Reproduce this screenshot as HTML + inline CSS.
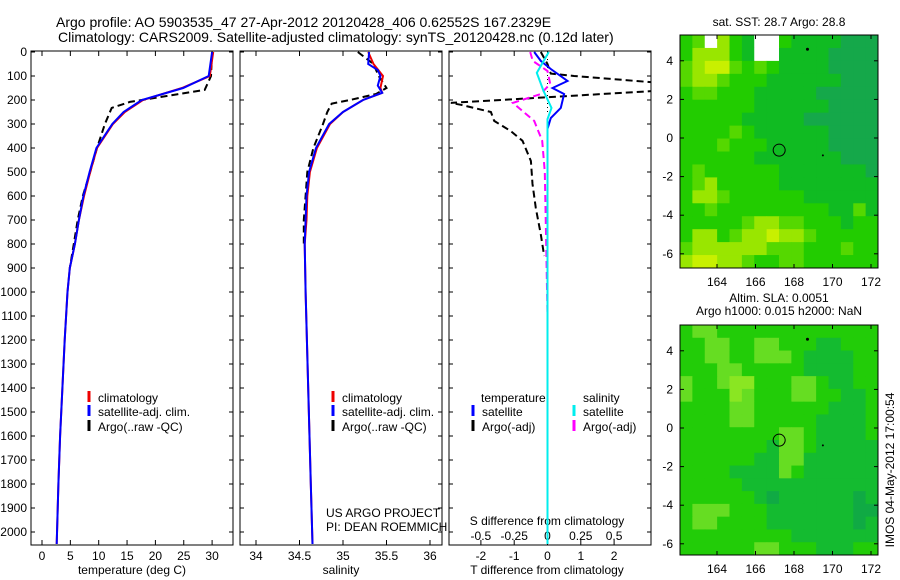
<!DOCTYPE html>
<html><head><meta charset="utf-8"><style>
body{margin:0;background:#fff}
svg{display:block;font-family:"Liberation Sans",sans-serif}
text{font-size:12px;fill:#000}
</style></head><body>
<svg id="s" width="900" height="580">
<text x="56" y="27" style="font-size:14px">Argo profile: AO 5903535_47 27-Apr-2012 20120428_406 0.62552S 167.2329E</text>
<text x="58" y="42" style="font-size:14px">Climatology: CARS2009. Satellite-adjusted climatology: synTS_20120428.nc (0.12d later)</text>
<text transform="translate(894,470) rotate(-90)" text-anchor="middle">IMOS 04-May-2012 17:00:54</text>
<g id="g"></g>
</svg>
<script>
// ---- data ----
const depthTicks=[0,100,200,300,400,500,600,700,800,900,1000,1100,1200,1300,1400,1500,1600,1700,1800,1900,2000];
const tTicks=[0,5,10,15,20,25,30];
const sTicks=[34,34.5,35,35.5,36];
const dTTicks=[-2,-1,0,1,2];
const dSTicks=[-0.5,-0.25,0,0.25,0.5];
const dSTickLabels=['-0.5','-0.25','0','0.25','0.5'];
const climTD=[0,100,150,200,250,300,400,500,600,700,800,900,1000,1200,1400,1600,1800,2050];
const climT=[30.2,29.6,24.7,17.8,14.6,12.5,9.7,8.5,7.4,6.5,5.8,4.9,4.5,4.0,3.6,3.2,2.9,2.6];
const satT=[30.0,29.4,24.9,17.6,14.4,12.4,9.6,8.4,7.3,6.5,5.8,4.9,4.5,4.0,3.6,3.2,2.9,2.6];
const argoTD=[0,100,158,208,233,300,400,500,600,700,800,900];
const argoT=[30,29.8,28.7,15.5,12.3,11.1,9.7,8.5,7.2,6.3,5.6,4.9];
const climSD=[0,50,100,150,170,200,250,300,400,500,600,700,800,1000,1400,1800,2050];
const climS=[35.29,35.35,35.46,35.43,35.45,35.23,35.0,34.85,34.7,34.62,34.59,34.58,34.56,34.57,34.6,34.63,34.65];
const satSD=[0,50,75,100,140,170,200,250,300,400,500,600,700,800,1000,1400,1800,2050];
const satS=[35.30,35.29,35.40,35.43,35.40,35.45,35.23,35.0,34.84,34.69,34.61,34.58,34.57,34.56,34.57,34.6,34.63,34.65];
const argoSD=[0,50,100,150,175,200,215,250,300,400,500,600,700,800];
const argoS=[35.17,35.35,35.41,35.5,35.38,35.08,34.87,34.82,34.77,34.66,34.59,34.57,34.55,34.55];
const dTArgoD=[0,50,90,100,130,160,212,220,250,287,330,370,454,550,650,760,850];
const dTArgo=[-0.2,0,0.1,0.8,3.5,3.5,-2.9,-2.6,-1.7,-1.6,-1.1,-0.75,-0.5,-0.45,-0.35,-0.2,-0.1];
const dTSatD=[0,37,71,121,150,175,233,275,320,2050];
const dTSat=[-0.4,-0.2,0.1,0.6,0.15,0.5,0.4,0.1,0,0];
const dSArgoD=[0,37,79,133,175,212,287,370,500,800,1100];
const dSArgo=[-0.13,-0.11,0,0.02,-0.05,-0.26,-0.1,-0.04,-0.02,-0.01,0];
const dSSatD=[0,87,162,233,280,2050];
const dSSat=[0.01,-0.08,-0.03,0.03,0,0];
const sstGrid=["cdwecbwwcbbbbaaa","ceeecbwwbbbbaaaa","deffdcdcbbbbaaaa","deedcccbbbbbbaaa","cddcccbbbbbaaaaa","ccccccbbbbbbaaaa","cccccbbbbbaaaaaa","ccccdcbbbbbbaaaa","cccdcccbbbbbaaaa","ccccccbbbbbbbaaa","cdccccccbbbbbbba","cdecccccbbbbbbbb","ceedccccccbbbbbb","ccdcccccccccbbdb","cccccdeeddcccbcc","ceecdeefeedccccc","deeeeeedddcccdcc","effeedccddcccccc"];
const slaGrid=["cddccccccccccccc","ccddccddcccbbccc","ccddccdddcbbbbcc","cccddcccccbbbbcc","dccdeecccddcbbcc","dcccedcccddccbbc","ccccddccccccbbbc","ccccddcccccbbbbc","ccccccccddcbbbbc","cccccccbddcbbbbb","ccccccbbddbbbbbb","ccccbbbbdcbbbbbb","cccccbbbbbbbbbbb","ccccccbabbbbbbab","cdddcccbbbbbbbaa","cddccccbbbbbbbab","cccccccccbbbbbbb","ccccccddcccbbbcc"];
const lonTicks=[164,166,168,170,172];
const latTicks=[4,2,0,-2,-4,-6];
const argoPos=[167.23,-0.63];
// ---- helpers ----
let g=document.getElementById('g');const NS='http://www.w3.org/2000/svg';
function mk(t,a,p){const e=document.createElementNS(NS,t);for(const k in a)e.setAttribute(k,a[k]);(p||g).appendChild(e);return e;}
const Y=d=>52+d*0.24;
function panel(x0,name){const r=mk('rect',{x:x0,y:51,width:202,height:494,fill:'none',stroke:'#000','stroke-width':1});


depthTicks.forEach(d=>{mk('line',{x1:x0,x2:x0+4,y1:Y(d),y2:Y(d),stroke:'#000'});mk('line',{x1:x0+198,x2:x0+202,y1:Y(d),y2:Y(d),stroke:'#000'});});}
function txt(x,y,s,name,anchor){const t=mk('text',{x:x,y:y,'text-anchor':anchor||'start'});t.textContent=s;


return t;}
function xt(X,ticks,name){ticks.forEach(v=>{mk('line',{x1:X(v),x2:X(v),y1:545,y2:540,stroke:'#000'});mk('line',{x1:X(v),x2:X(v),y1:51,y2:56,stroke:'#000'});
txt(X(v),560,String(v),name+'-tick-label','middle');});}
function line(X,vals,ds,col,dash,name){const pts=vals.map((v,i)=>X(v).toFixed(1)+','+Y(ds[i]).toFixed(1)).join(' ');
const e=mk('polyline',{points:pts,fill:'none',stroke:col,'stroke-width':2,'stroke-dasharray':dash||'none'});

}
function leg(x,y,col,s,name){mk('line',{x1:x,x2:x,y1:y-11,y2:y,stroke:col,'stroke-width':3});txt(x+9,y,s,name);}
depthTicks.forEach(d=>{txt(27,Y(d)+4,String(d),'depth-tick-label','end');});
const root=g;
const cp=mk('clipPath',{id:'c1'});mk('rect',{x:31,y:51,width:202,height:494},cp);
const cp2=mk('clipPath',{id:'c2'});mk('rect',{x:240,y:51,width:202,height:494},cp2);
const cp3=mk('clipPath',{id:'c3'});mk('rect',{x:449,y:51,width:202,height:494},cp3);
// Panel 1
const XT=v=>42+v*5.67;
panel(31,'temperature-panel');xt(XT,tTicks,'temperature');
g=mk('g',{'clip-path':'url(#c1)'});
line(XT,argoT,argoTD,'#000','7,4','argo-temperature-line');
line(XT,climT,climTD,'#e00','','climatology-temperature-line');
line(XT,satT,climTD,'#00f','','satellite-temperature-line');
g=root;
txt(132,574,'temperature (deg C)','temperature-axis-title','middle');
leg(89,402,'#e00','climatology','legend-climatology');leg(89,416,'#00f','satellite-adj. clim.','legend-satellite');leg(89,431,'#000','Argo(..raw -QC)','legend-argo');
// Panel 2
const XS=v=>256+(v-34)*87;
panel(240,'salinity-panel');xt(XS,sTicks,'salinity');
g=mk('g',{'clip-path':'url(#c2)'});
line(XS,argoS,argoSD,'#000','7,4','argo-salinity-line');
line(XS,climS,climSD,'#e00','','climatology-salinity-line');
line(XS,satS,satSD,'#00f','','satellite-salinity-line');
g=root;
txt(341,574,'salinity','salinity-axis-title','middle');
leg(333,402,'#e00','climatology','legend-climatology');leg(333,416,'#00f','satellite-adj. clim.','legend-satellite');leg(333,431,'#000','Argo(..raw -QC)','legend-argo');
txt(326,517,'US ARGO PROJECT','project-label');txt(326,531,'PI: DEAN ROEMMICH','pi-label');
// Panel 3
const XD=v=>547.5+v*33.3;const XDS=v=>547.5+v*133.2;
panel(449,'difference-panel');xt(XD,dTTicks,'t-difference');
dSTicks.forEach((v,i)=>{txt(XDS(v),540,dSTickLabels[i],'s-difference-tick-label','middle');});
txt(547,525,'S difference from climatology','s-difference-axis-title','middle');
txt(547,574,'T difference from climatology','t-difference-axis-title','middle');
g=mk('g',{'clip-path':'url(#c3)'});
mk('line',{x1:XD(0),x2:XD(0),y1:51,y2:Y(250),stroke:'#000','stroke-dasharray':'1,3'});
line(XD,dTArgo,dTArgoD,'#000','7,4','argo-t-difference-line');
line(XDS,dSArgo,dSArgoD,'#f0f','7,4','argo-s-difference-line');
line(XD,dTSat,dTSatD,'#00f','','satellite-t-difference-line');
line(XDS,dSSat,dSSatD,'#0ee','','satellite-s-difference-line');
g=root;
txt(481,402,'temperature','legend-temperature-header');txt(583,402,'salinity','legend-salinity-header');
leg(473,416,'#00f','satellite','legend-t-satellite');leg(473,431,'#000','Argo(-adj)','legend-t-argo');
leg(574,416,'#0ee','satellite','legend-s-satellite');leg(574,431,'#f0f','Argo(-adj)','legend-s-argo');
// Maps
const pal1={a:'#15a84a',b:'#10bb22',c:'#22cc00',d:'#55d800',e:'#99e600',f:'#c8f000',w:'#ffffff'};
const pal2={a:'#10aa44',b:'#14bb30',c:'#22cc08',d:'#66dd22',e:'#8ae622'};
function map(y0,y1,grid,pal,name,latZero){
const x0=680,x1=878,H=y1-y0;const LX=v=>717+(v-164)*19.25;const LY=v=>latZero-v*19.3;
const mg=mk('g',{});


const cw=(x1-x0)/grid[0].length,ch=H/grid.length;
grid.forEach((row,r)=>{for(let c=0;c<row.length;c++){mk('rect',{x:x0+c*cw,y:y0+r*ch,width:cw+0.5,height:ch+0.5,fill:pal[row[c]]},mg);}});
mk('rect',{x:x0,y:y0,width:x1-x0,height:H,fill:'none',stroke:'#000'},mg);
lonTicks.forEach(v=>{mk('line',{x1:LX(v),x2:LX(v),y1:y0,y2:y0+4,stroke:'#000'},mg);mk('line',{x1:LX(v),x2:LX(v),y1:y1,y2:y1-4,stroke:'#000'},mg);txt(LX(v),y1+18,String(v),'longitude-tick-label','middle');});
latTicks.forEach(v=>{mk('line',{x1:x0,x2:x0+4,y1:LY(v),y2:LY(v),stroke:'#000'},mg);mk('line',{x1:x1,x2:x1-4,y1:LY(v),y2:LY(v),stroke:'#000'},mg);txt(673,LY(v)+4,String(v),'latitude-tick-label','end');});
const c=mk('circle',{cx:LX(argoPos[0]),cy:LY(argoPos[1]),r:6,fill:'none',stroke:'#000'},mg);


mk('circle',{cx:LX(169.5),cy:LY(-0.9),r:1,fill:'#000'},mg);mk('circle',{cx:LX(168.7),cy:LY(4.6),r:1.5,fill:'#000'},mg);
}
map(35,268,sstGrid,pal1,'sst-map',138);
map(325,555,slaGrid,pal2,'sla-map',428);
txt(779,26,'sat. SST: 28.7 Argo: 28.8','sst-map-title','middle');
txt(779,302,'Altim. SLA: 0.0051','sla-map-title-1','middle');
txt(779,315,'Argo h1000: 0.015 h2000: NaN','sla-map-title-2','middle');
</script>
</body></html>
